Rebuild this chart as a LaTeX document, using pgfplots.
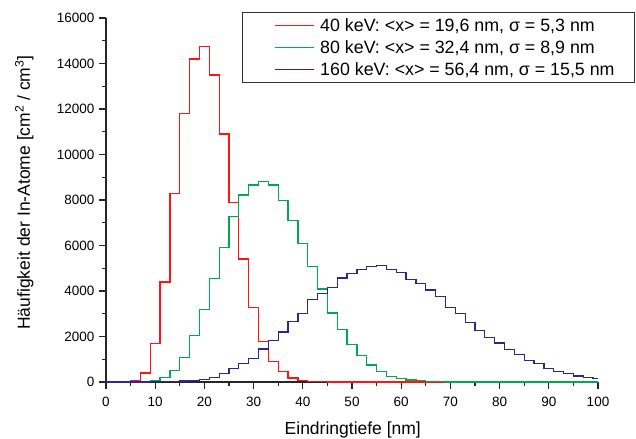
\documentclass[border=0pt]{standalone}
\usepackage{fontspec}
\setmainfont{Liberation Sans}
\usepackage{pgfplots}
\pgfplotsset{compat=1.18}
\definecolor{cRed}{RGB}{255,20,20}
\definecolor{cGreen}{RGB}{0,168,80}
\definecolor{cBlue}{RGB}{40,40,145}
\begin{document}
\begin{tikzpicture}
\useasboundingbox (0,0) rectangle (636bp,439bp);
\begin{axis}[
  at={(106bp,57bp)}, anchor=south west,
  scale only axis, width=492bp, height=364bp,
  xmin=0, xmax=100, ymin=0, ymax=16000,
  axis x line=bottom, axis y line=left,
  axis line style={-, line width=1.2bp, black!85},
  xtick={0,10,...,100}, minor xtick={5,15,...,95},
  ytick={0,2000,...,16000}, minor ytick={1000,3000,...,15000},
  tick align=outside,
  major tick length=7bp, minor tick length=4bp,
  every tick/.style={black!85, line width=1.1bp},
  scaled y ticks=false,
  /pgf/number format/1000 sep={},
  /pgf/number format/assume math mode=true,
  tick label style={font=\fontsize{13.5bp}{16bp}\selectfont},
  xticklabel style={yshift=-5bp},
  yticklabel style={xshift=-1bp},
  every axis x label/.style={at={(rel axis cs:0.5016,-0.1448)}, anchor=base, font=\fontsize{17.5bp}{21bp}\selectfont},
  every axis y label/.style={at={(rel axis cs:-0.1545,0.5206)}, anchor=base, rotate=90, font=\fontsize{17.5bp}{21bp}\selectfont},
  xlabel={Eindringtiefe [nm]},
  ylabel={Häufigkeit der In-Atome [cm\textsuperscript{2} / cm\textsuperscript{3}]},
  legend cell align=left,
  legend image code/.code={\path[draw=none,fill=none] (-13bp,0bp) (45bp,0bp); \draw[#1, line width=1.3bp] (0bp,0bp) -- (39bp,0bp);},
  legend style={at={(rel axis cs:1.0752,1.017)}, anchor=north east,
    draw=black!80, line width=0.9bp, fill=white,
    inner xsep=20bp, inner ysep=7bp, row sep=9.5bp,
    nodes={inner sep=0pt, text depth=0pt, text height=12.5bp},
    font=\fontsize{17.8bp}{21bp}\selectfont},
  clip=false,
]
\addplot[const plot mark left, color=cRed, line width=1.3bp] coordinates {
(0,0) (1,0) (3,0) (5,50) (7,400) (9,1700) (11,4400) (13,8300) (15,11800)
(17,14200) (19,14760) (21,13500) (23,10900) (25,7900) (27,5400) (29,3270)
(31,1790) (33,890) (35,450) (37,176) (39,70) (41,30) (43,10) (45,0) (100,0)
};
\addlegendentry{40 keV: <x> = 19,6 nm, σ = 5,3 nm}
\addplot[const plot mark left, color=cGreen, line width=1.3bp] coordinates {
(0,0) (7,0) (9,40) (11,190) (13,515) (15,1070) (17,2050) (19,3200) (21,4550)
(23,5910) (25,7270) (27,8220) (29,8660) (31,8815) (33,8660) (35,7970)
(37,7100) (39,6080) (41,5080) (43,4088) (45,3033) (47,2310) (49,1650)
(51,1150) (53,745) (55,460) (57,246) (59,158) (61,88) (63,56) (65,30)
(67,15) (69,0) (100,0)
};
\addlegendentry{80 keV: <x> = 32,4 nm, σ = 8,9 nm}
\addplot[const plot mark left, color=cBlue, line width=1.3bp] coordinates {
(0,0) (9,10) (11,20) (13,35) (15,45) (17,60) (19,110) (21,210) (23,375)
(25,590) (27,815) (29,1035) (31,1450) (33,1815) (35,2200) (37,2668)
(39,3025) (41,3618) (43,3905) (45,4150) (47,4565) (49,4755) (51,4960)
(53,5072) (55,5112) (57,4954) (59,4804) (61,4514) (63,4339) (65,4044)
(67,3750) (69,3266) (71,3020) (73,2611) (75,2255) (77,1965) (79,1714)
(81,1420) (83,1200) (85,936) (87,804) (89,602) (91,453) (93,365)
(95,264) (97,202) (99,158) (100,158)
};
\addlegendentry{160 keV: <x> = 56,4 nm, σ = 15,5 nm}
\end{axis}
\end{tikzpicture}
\end{document}
